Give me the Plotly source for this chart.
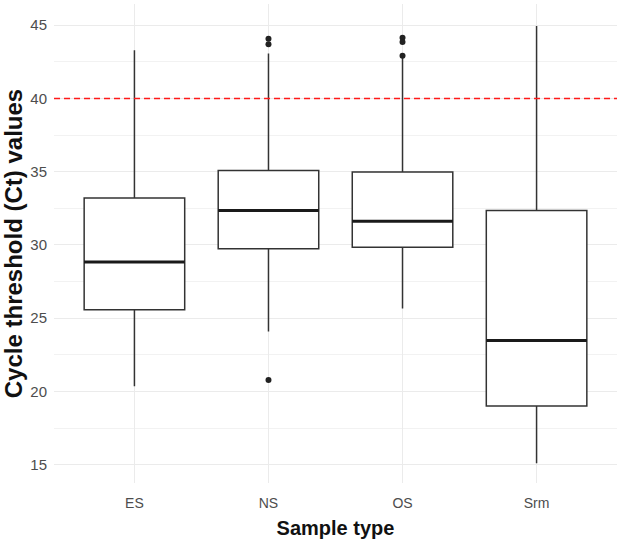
import plotly.graph_objects as go

sample_types = ["ES", "NS", "OS", "Srm"]
lower_whisker = [20.35, 24.1, 25.66, 15.1]
q1_vals = [25.57, 29.74, 29.85, 19.0]
medians = [28.83, 32.35, 31.62, 23.48]
q3_vals = [33.2, 35.09, 34.98, 32.35]
upper_whisker = [43.3, 43.07, 42.8, 44.95]

outlier_type = ["NS", "NS", "NS", "OS", "OS", "OS"]
outlier_ct = [44.08, 43.7, 20.78, 44.15, 43.85, 42.91]

cutoff_ct = 40
y_ticks = [15, 20, 25, 30, 35, 40, 45]

grid = "#ebebeb"
ink = "#333333"

fig = go.Figure()

fig.add_trace(go.Box(
    x=sample_types,
    q1=q1_vals,
    median=medians,
    q3=q3_vals,
    lowerfence=lower_whisker,
    upperfence=upper_whisker,
    width=0.75,
    boxpoints=False,
    fillcolor="white",
    line=dict(color=ink, width=1.5),
    whiskerwidth=0,
    hoverinfo="skip",
    showlegend=False,
))

fig.add_trace(go.Scatter(
    x=outlier_type,
    y=outlier_ct,
    mode="markers",
    marker=dict(color="#222222", size=6),
    showlegend=False,
))

# thicker median bar like ggplot
for i, m in enumerate(medians):
    fig.add_shape(type="line", xref="x", yref="y",
                  x0=i - 0.375, x1=i + 0.375, y0=m, y1=m,
                  line=dict(color="#1a1a1a", width=3))

fig.add_hline(y=cutoff_ct, line=dict(color="#ff1a1a", width=1.6, dash="6px,4px"))

fig.update_layout(
    width=624, height=543,
    margin=dict(l=54, r=7, t=4, b=60),
    paper_bgcolor="white",
    plot_bgcolor="white",
    font=dict(family="Liberation Sans, Arial, sans-serif", color="#4d4d4d", size=14),
)

fig.update_xaxes(
    type="category",
    range=[-0.6, 3.6],
    automargin=False,
    showgrid=True, gridcolor=grid, gridwidth=1.2,
    zeroline=False, showline=False, ticks="",
    ticklabelstandoff=10,
    tickfont=dict(size=14, color="#4d4d4d"),
    title=dict(text="<b>Sample type</b>", font=dict(size=20, color="#111111"), standoff=10),
)

fig.update_yaxes(
    range=[13.75, 46.45],
    tickvals=y_ticks,
    automargin=False,
    showgrid=True, gridcolor=grid, gridwidth=1.2,
    minor=dict(dtick=2.5, tick0=15, showgrid=True, gridcolor="#f2f2f2", gridwidth=0.8),
    zeroline=False, showline=False, ticks="",
    ticklabelstandoff=6,
    tickfont=dict(size=15, color="#4d4d4d"),
    title=dict(text="<b>Cycle threshold (Ct) values</b>", font=dict(size=24, color="#111111"), standoff=4),
)

# drop the default 8px page margin so the figure sits at the window corner
fig.write_html("out.html", config={"displayModeBar": False},
               post_script="document.body.style.margin='0';")
